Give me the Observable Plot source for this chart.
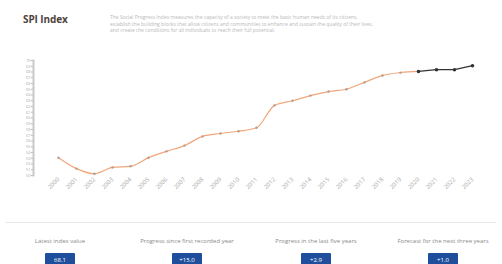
<!DOCTYPE html>
<html>
<head>
<meta charset="utf-8">
<script src="https://cdn.jsdelivr.net/npm/d3@7"></script>
<script src="https://cdn.jsdelivr.net/npm/@observablehq/plot@0.6"></script>
<style>
  body { margin: 0; background: #fff; font-family: "Open Sans", "DejaVu Sans", sans-serif; }
  #wrap { position: relative; width: 502px; height: 264px; overflow: hidden; }
  #title { position: absolute; left: 23px; top: 12px; font-size: 10px; font-weight: 700; color: #4d423d; letter-spacing: -0.1px; }
  #sub { position: absolute; left: 110px; top: 14px; width: 265px; font-size: 5px; line-height: 6.5px; color: #b8b8b8; }
  #chart { position: absolute; left: 0; top: 45px; }
  #rule { position: absolute; left: 6px; top: 222px; width: 490px; height: 1px; background: #e6e6e6; }
  .stat { position: absolute; top: 237px; text-align: center; }
  .stat .lab { font-size: 6px; color: #8a8a8a; white-space: nowrap; }
  .stat .box { display: inline-block; margin-top: 7px; padding: 3px 7px; min-width: 16px; height: 14px; background: #1f4e9c; color: #fff; font-size: 6px; border-radius: 1px; }
</style>
</head>
<body>
<div id="wrap">
  <div id="title">SPI Index</div>
  <div id="sub">The Social Progress Index measures the capacity of a society to meet the basic human needs of its citizens, establish the building blocks that allow citizens and communities to enhance and sustain the quality of their lives, and create the conditions for all individuals to reach their full potential.</div>
  <div id="chart"></div>
  <div id="rule"></div>
  <div id="stats"></div>
</div>
<script>
const years = ["2000","2001","2002","2003","2004","2005","2006","2007","2008","2009","2010","2011","2012","2013","2014","2015","2016","2017","2018","2019","2020","2021","2022","2023"];
const actualValues = [53.1,51.2,50.3,51.4,51.6,53.1,54.2,55.2,56.8,57.3,57.7,58.3,62.2,63.0,63.9,64.6,65.0,66.2,67.4,67.9,68.1];
const forecastYears = ["2020","2021","2022","2023"];
const forecastValues = [68.1,68.4,68.4,69.1];
const statLabels = ["Latest index value","Progress since first recorded year","Progress in the last five years","Forecast for the next three years"];
const statValues = ["68.1","+15.0","+2.9","+1.0"];
const statCenters = [60, 187, 316, 443];

const actual = actualValues.map((v, i) => ({year: years[i], value: v}));
const forecast = forecastValues.map((v, i) => ({year: forecastYears[i], value: v}));

const chart = Plot.plot({
  width: 502,
  height: 170,
  marginLeft: 33,
  marginRight: 11,
  marginTop: 15,
  marginBottom: 40,
  style: {fontFamily: "Open Sans, DejaVu Sans, sans-serif", color: "#999"},
  x: {type: "point", domain: years, insetLeft: 5, label: null, tickRotate: -45, tickSize: 0},
  y: {domain: [50, 70], label: null, grid: false},
  marks: [
    Plot.axisY({fontSize: 4, tickSize: 2, tickPadding: 1, ticks: 20, stroke: "#bbb", fill: "#aaa"}),
    Plot.frame({anchor: "left", stroke: "#c8c8c8", strokeWidth: 2}),
    Plot.axisX({fontSize: 6, tickRotate: -45, tickSize: 0, tickPadding: 3, fill: "#aaa"}),
    Plot.line(actual, {x: "year", y: "value", stroke: "#f2a679", strokeWidth: 1.2, curve: "monotone-x"}),
    Plot.dot(actual, {x: "year", y: "value", r: 1.2, fill: "#b79c8e"}),
    Plot.line(forecast, {x: "year", y: "value", stroke: "#333", strokeWidth: 1.2}),
    Plot.dot(forecast, {x: "year", y: "value", r: 1.8, fill: "#333"})
  ]
});
document.getElementById("chart").appendChild(chart);

const stats = document.getElementById("stats");
statLabels.forEach((lab, i) => {
  const d = document.createElement("div");
  d.className = "stat";
  d.style.left = (statCenters[i] - 70) + "px";
  d.style.width = "140px";
  d.innerHTML = `<div class="lab">${lab}</div><div class="box">${statValues[i]}</div>`;
  stats.appendChild(d);
});
</script>
</body>
</html>
